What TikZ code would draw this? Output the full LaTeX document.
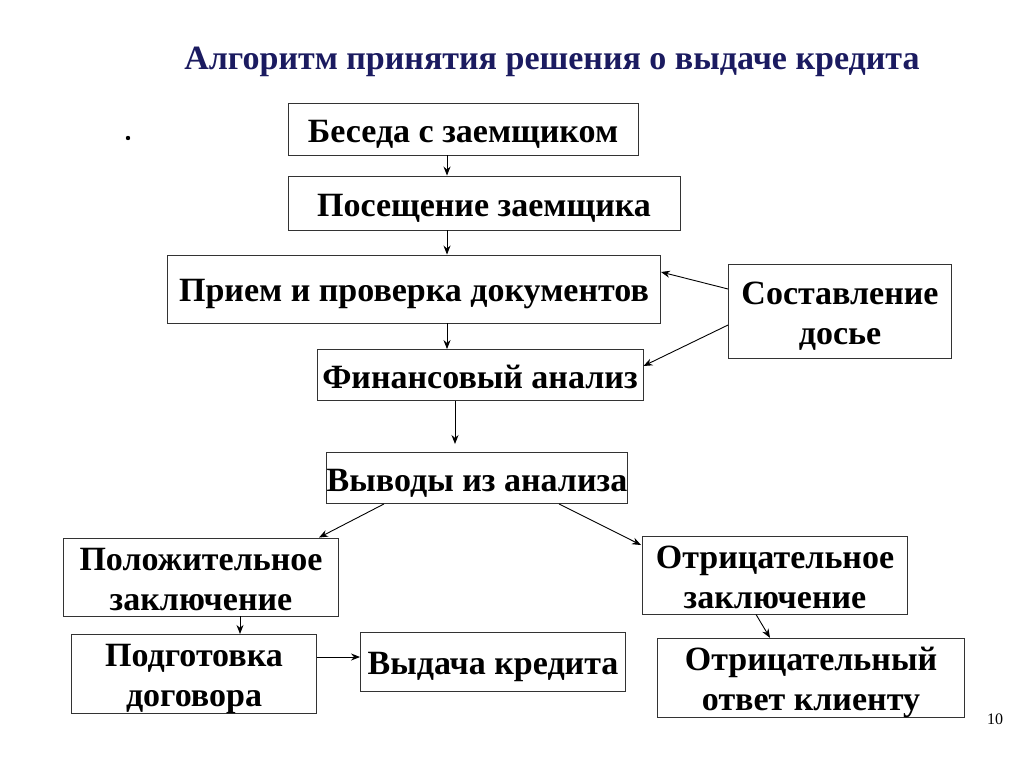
\documentclass[tikz,border=0pt]{standalone}
\usepackage{fontspec}
\setmainfont{Liberation Serif}
\usetikzlibrary{arrows.meta}
\definecolor{navy}{HTML}{1B1B60}
\newcommand\lnst{\rule[-6pt]{0pt}{38pt}}
\begin{document}
\begin{tikzpicture}[x=1pt,y=-1pt,
  bx/.style={draw=black!80, line width=0.9pt, fill=white, inner sep=0pt, align=center,
    font=\fontsize{34}{40}\selectfont\bfseries},
  arr/.style={-{Stealth[length=9pt,width=7pt]}, line width=0.9pt}]
\useasboundingbox[fill=white] (0,0) rectangle (1024,768);
\node[navy, font=\fontsize{34}{38}\selectfont\bfseries] (title) at (552,62) {Алгоритм принятия решения о выдаче кредита};
\fill (128,138) circle (2.2pt);
\node[bx, minimum width=350, minimum height=52] (b1) at (463,129) {\lnst Беседа с заемщиком};
\node[bx, minimum width=392, minimum height=54] (b2) at (484,203) {\lnst Посещение заемщика};
\node[bx, minimum width=493, minimum height=68] (b3) at (414,289) {\lnst Прием и проверка документов};
\node[bx, minimum width=223, minimum height=94] (b4) at (840,311) {\lnst Составление\\\lnst досье};
\node[bx, minimum width=326, minimum height=51] (b5) at (480,375) {\lnst Финансовый анализ};
\node[bx, minimum width=300, minimum height=51] (b6) at (477,478) {\lnst Выводы из анализа};
\node[bx, minimum width=275, minimum height=78] (b7) at (201,577) {\lnst Положительное\\\lnst заключение};
\node[bx, minimum width=265, minimum height=78] (b8) at (775,575) {\lnst Отрицательное\\\lnst заключение};
\node[bx, minimum width=245, minimum height=78] (b9) at (194,674) {\lnst Подготовка\\\lnst договора};
\node[bx, minimum width=265, minimum height=59] (b10) at (493,662) {\lnst Выдача кредита};
\node[bx, minimum width=307, minimum height=78] (b11) at (811,678) {\lnst Отрицательный\\\lnst ответ клиенту};
\node[font=\fontsize{16}{18}\selectfont] (pg) at (995,719) {10};
\coordinate (e6) at (455,444);
\draw[arr] (b1.south -| 447,0) -- (b2.north -| 447,0);
\draw[arr] (b2.south -| 447,0) -- (b3.north -| 447,0);
\draw[arr] (b3.south -| 447,0) -- (b5.north -| 447,0);
\draw[arr] (b5.south -| 455,0) -- (e6);
\draw[arr] (b4.west |- 0,289) -- (b3.east |- 0,272);
\draw[arr] (b4.west |- 0,325) -- (b5.east |- 0,366);
\draw[arr] (b6.south -| 384,0) -- (b7.north -| 319,0);
\draw[arr] (b6.south -| 559,0) -- (641,545);
\draw[arr] (b7.south -| 240,0) -- (b9.north -| 240,0);
\draw[arr] (b9.east |- 0,657) -- (b10.west |- 0,657);
\draw[arr] (b8.south -| 756,0) -- (b11.north -| 770,0);
\end{tikzpicture}
\end{document}
